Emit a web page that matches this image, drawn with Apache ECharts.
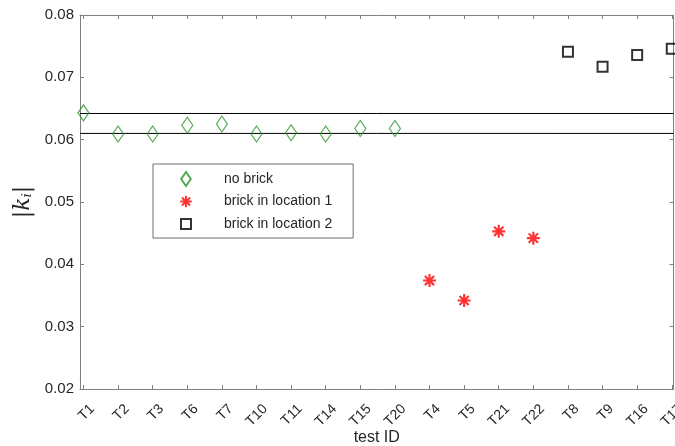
<!DOCTYPE html>
<html>
<head>
<meta charset="utf-8">
<script src="https://cdn.jsdelivr.net/npm/echarts@6/dist/echarts.min.js"></script>
<style>html,body{margin:0;padding:0;background:#fff;}#c{width:675px;height:446px;}</style>
</head>
<body>
<div id="c"></div>
<script>
const categories = ['T1','T2','T3','T6','T7','T10','T11','T14','T15','T20','T4','T5','T21','T22','T8','T9','T16','T17'];
const noBrickIDs = ['T1','T2','T3','T6','T7','T10','T11','T14','T15','T20'];
const noBrickVals = [0.0643,0.0609,0.0609,0.0623,0.0625,0.0609,0.0611,0.0609,0.0618,0.0618];
const loc1IDs = ['T4','T5','T21','T22'];
const loc1Vals = [0.0374,0.0342,0.0453,0.0442];
const loc2IDs = ['T8','T9','T16','T17'];
const loc2Vals = [0.0741,0.0717,0.0736,0.0746];
const refLines = [0.0642, 0.0610];
const yTicks = [0.02,0.03,0.04,0.05,0.06,0.07,0.08];
const seriesNames = ['no brick','brick in location 1','brick in location 2'];

const pos = id => categories.indexOf(id) + 1;
const toPts = (ids, vals) => ids.map((id, i) => [pos(id), vals[i]]);
const tickVals = categories.map((c, i) => i + 1);
const xMin = 0.9, xMax = 18.05;

const asteriskBody = 'M1 8.5L19 8.5L19 11.5L1 11.5Z M11.5 1L11.5 19L8.5 19L8.5 1Z M4.7 2.58L17.42 15.3L15.3 17.42L2.58 4.7Z M2.58 15.3L15.3 2.58L17.42 4.7L4.7 17.42Z';
const asterisk = 'path://' + asteriskBody;
const asteriskIcon = 'path://M-1 -1 ' + asteriskBody + ' M21 21';
const diamondIcon = 'path://M5.5 0L11 8L5.5 16L0 8Z';
const squareIcon = 'path://M-2 -2 M0 0L10 0L10 10L0 10Z M12 12';

const axisGray = '#808080';
const textCol = '#262626';
const font = 'Liberation Sans, Arial, sans-serif';

const chart = echarts.init(document.getElementById('c'), null, {renderer: 'canvas'});
const refSeries = refLines.map(v => ({
  type: 'line', data: [[xMin, v], [xMax, v]], symbol: 'none', silent: true,
  lineStyle: {color: '#000', width: 1}, z: 1, legendHoverLink: false
}));
chart.setOption({
  animation: false,
  backgroundColor: '#fff',
  textStyle: {fontFamily: font},
  grid: {left: 80, right: 1.5, top: 15, bottom: 57, outerBoundsMode: 'none', containLabel: false},
  legend: {
    orient: 'vertical', left: 153, top: 164,
    padding: [7, 21, 6, 25],
    itemWidth: 66, itemHeight: 14, itemGap: 7.5,
    borderColor: '#6e6e6e', borderWidth: 1, backgroundColor: '#fff',
    textStyle: {fontSize: 14, color: textCol, fontFamily: font},
    data: [
      {name: seriesNames[0], icon: diamondIcon},
      {name: seriesNames[1], icon: asteriskIcon},
      {name: seriesNames[2], icon: squareIcon, itemStyle: {borderWidth: 2}}
    ]
  },
  xAxis: [{
    type: 'value', min: xMin, max: xMax,
    name: 'test ID', nameLocation: 'middle', nameGap: 41, nameMoveOverlap: false,
    nameTextStyle: {fontSize: 16, color: textCol, fontFamily: font},
    axisLine: {lineStyle: {color: axisGray}},
    axisTick: {inside: true, length: 4, lineStyle: {color: axisGray}, customValues: tickVals},
    axisLabel: {rotate: 45, fontSize: 14, lineHeight: 25, color: textCol, margin: 9,
      customValues: tickVals,
      formatter: v => ' \n' + (categories[Math.round(v) - 1] || '')},
    splitLine: {show: false}
  }, {
    type: 'value', min: xMin, max: xMax, position: 'top',
    axisLine: {lineStyle: {color: axisGray}},
    axisTick: {inside: true, length: 4, lineStyle: {color: axisGray}, customValues: tickVals},
    axisLabel: {show: false}, splitLine: {show: false}
  }],
  yAxis: [{
    type: 'value', min: yTicks[0], max: yTicks[yTicks.length - 1], interval: 0.01,
    name: '{b||}{k|k}{i|i}{b||}', nameLocation: 'middle', nameGap: 40, nameRotate: 90,
    nameTextStyle: {
      rich: {
        b: {fontFamily: 'DejaVu Serif', fontSize: 22, color: textCol},
        k: {fontFamily: 'DejaVu Serif', fontStyle: 'italic', fontSize: 22, color: textCol},
        i: {fontFamily: 'DejaVu Serif', fontStyle: 'italic', fontSize: 13, color: textCol, padding: [9, 0, 0, 0]}
      }
    },
    axisLine: {show: true, lineStyle: {color: axisGray}},
    axisTick: {show: true, inside: true, length: 4, lineStyle: {color: axisGray}},
    axisLabel: {fontSize: 15, color: textCol, margin: 6, formatter: v => v.toFixed(2)},
    splitLine: {show: false}
  }, {
    type: 'value', min: yTicks[0], max: yTicks[yTicks.length - 1], interval: 0.01, position: 'right',
    axisLine: {show: true, lineStyle: {color: axisGray}},
    axisTick: {show: true, inside: true, length: 4, lineStyle: {color: axisGray}},
    axisLabel: {show: false}, splitLine: {show: false}
  }],
  series: refSeries.concat([
    {name: seriesNames[0], type: 'scatter', data: toPts(noBrickIDs, noBrickVals),
      symbol: 'diamond', symbolSize: [11, 16], clip: false, z: 3,
      itemStyle: {color: 'rgba(255,255,255,0)', borderColor: '#2a962a', borderWidth: 1.2}},
    {name: seriesNames[1], type: 'scatter', data: toPts(loc1IDs, loc1Vals),
      symbol: asterisk, symbolSize: 13, clip: false, z: 3,
      itemStyle: {color: '#ff0000'}},
    {name: seriesNames[2], type: 'scatter', data: toPts(loc2IDs, loc2Vals),
      symbol: 'rect', symbolSize: 10, clip: false, z: 3,
      itemStyle: {color: 'rgba(255,255,255,0)', borderColor: '#000', borderWidth: 2}}
  ])
});
</script>
</body>
</html>
